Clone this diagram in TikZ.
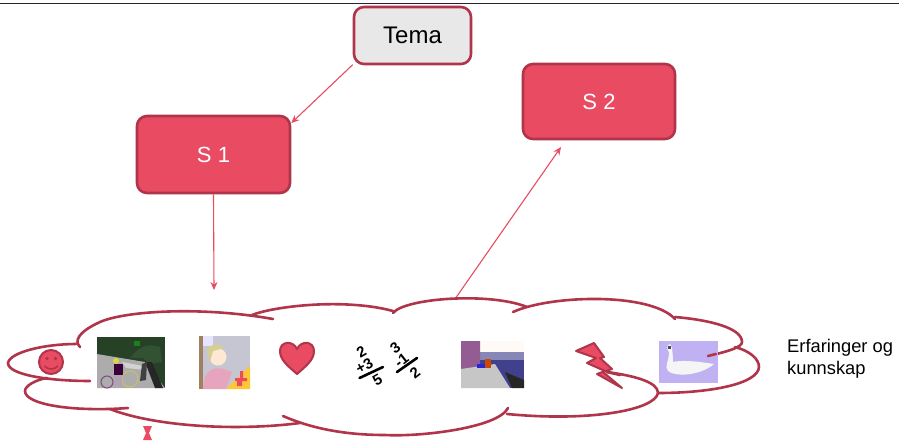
\documentclass[tikz,border=0pt]{standalone}
\usepackage{fontspec}
\setmainfont{Liberation Sans}
\definecolor{rosa}{HTML}{E94B63}
\definecolor{kant}{HTML}{B0354B}
\definecolor{graa}{HTML}{E8E8E8}
\tikzset{
  boks/.style={draw=kant,line width=2.6pt,rounded corners=10pt,inner sep=0pt,align=center},
  rodboks/.style={boks,fill=rosa,text=white,font=\fontsize{22}{26}\selectfont},
  pil/.style={draw=rosa,line width=1.1pt,-{Stealth[length=8pt,width=7pt]}},
  sky/.style={draw=kant,line width=2.6pt,line cap=round},
  ikon/.style={fill=rosa,draw=kant,line width=2pt,line join=round},
  brok/.style={font=\fontsize{15}{13.5}\bfseries\selectfont,inner sep=0pt,align=right},
  brokstrek/.style={black,line width=2.6pt,line cap=round},
}
\usetikzlibrary{arrows.meta}
\begin{document}
\begin{tikzpicture}[x=1pt,y=-1pt]
\useasboundingbox (0,0) rectangle (899,444);
\fill[white] (0,0) rectangle (899,444);
\draw[line width=1pt,black!85] (0,3.5) -- (899,3.5);
% boxes
\node[boks,fill=graa,minimum width=117pt,minimum height=57pt,font=\fontsize{24}{28}\selectfont] (tema) at (412.5,35.5) {Tema};
\node[rodboks,minimum width=153pt,minimum height=77pt] (s1) at (213.5,154.5) {S 1};
\node[rodboks,minimum width=152pt,minimum height=75pt] (s2) at (599,101.5) {S 2};
\coordinate (skyinn) at (214,290);
\coordinate (skytopp) at (455,299);
\coordinate (s2inn) at (561,147);
\draw[pil] (tema.206) -- (s1.22);
\draw[pil] (s1.south) -- (skyinn);
\draw[pil] (skytopp) -- (s2inn);
% cloud
\draw[sky] (80,347) .. controls (74,341) and (78,332) .. (100,322) .. controls (125,311) and (200,306) .. (273,319);
\draw[sky] (252,315) .. controls (275,306) and (345,298) .. (393,311);
\draw[sky] (393,313) .. controls (405,298) and (490,292) .. (527,307);
\draw[sky] (513,312) .. controls (550,295) and (650,292) .. (675,319);
\draw[sky] (675,317) .. controls (710,320) and (742,328) .. (742,342) .. controls (742,347) and (730,351) .. (708,356);
\draw[sky] (735,347) .. controls (750,351) and (759,359) .. (759,367) .. controls (758,384) and (710,393) .. (658,393);
\draw[sky] (607,372) .. controls (635,376) and (658,382) .. (658,393) .. controls (655,410) and (590,422) .. (507,414);
\draw[sky] (508,408) .. controls (498,428) and (420,437) .. (385,435) .. controls (350,435) and (315,430) .. (283,416);
\draw[sky] (110,409) .. controls (150,425) and (230,432) .. (300,423);
\draw[sky] (128,408) .. controls (75,412) and (25,405) .. (25,391) .. controls (25,386) and (35,380) .. (47,378);
\draw[sky] (90,381) .. controls (50,381) and (8,375) .. (8,363) .. controls (10,352) and (45,344) .. (76,344);
% smiley
\fill[rosa,draw=kant,line width=2pt] (51,362) circle (12);
\fill[kant] (47,358.5) circle (1.9) (55.5,358.5) circle (1.9);
\draw[kant,line width=1.6pt] (44.5,366) .. controls (48,370) and (54,370) .. (58,366);
% heart
\path[ikon] (297,374) .. controls (288,366) and (280,360) .. (280,351) .. controls (280,341) and (293,340) .. (297,349) .. controls (301,340) and (314,341) .. (314,351) .. controls (314,360) and (306,366) .. (297,374) -- cycle;
% bolt
\path[ikon] (576,351) -- (594,343) -- (604,357) -- (600,358) -- (612,369) -- (603,372) -- (622,388) -- (597,374) -- (605,371) -- (587,363) -- (596,358) -- cycle;
\draw[sky] (607,372) -- (620,375);
% photo 1
\fill[black!85!green!70!gray] (97,337) rectangle (165,388);
\fill[gray!65] (97,354) -- (145,362) -- (165,388) -- (97,388) -- cycle;
\fill[gray!35] (122,362) -- (143,366) -- (146,370) -- (126,368) -- cycle;
\fill[green!20!black!60!gray] (130,358) .. controls (141,344) and (150,344) .. (160,347) -- (162,362) -- (150,364) -- (143,358) -- cycle;
\fill[green!45!black!90] (134,341) rectangle (140,346);
\fill[black!85] (145,362) -- (152,362) -- (163,388) -- (155,388) -- cycle;
\fill[black!75] (142,364) -- (147,362) -- (146,380) -- (140,381) -- cycle;
\draw[yellow!50!gray,line width=1pt] (130,379) circle (8);
\draw[violet!40!gray,line width=1pt] (107,382) circle (6);
\fill[violet!45!black] (114,364) rectangle (123,375);
\fill[violet!20!gray!60] (114,375) rectangle (122,386);
\fill[yellow!70!gray] (116,361) circle (3);
% photo 2
\fill[blue!12!gray!40] (199,336) rectangle (250,389);
\fill[brown!50!gray] (199,336) rectangle (203,389);
\fill[blue!10!white] (203,336) rectangle (213,346);
\fill[orange!55!yellow!80!white] (250,366) -- (250,389) -- (226,389) -- cycle;
\fill[violet!22!pink!85] (203,389) .. controls (204,368) and (214,364) .. (232,372) -- (226,389) -- cycle;
\fill[orange!18!white] (218,357) circle (8.5);
\fill[gray!55!yellow!70] (207,350) .. controls (210,343) and (220,343) .. (224,348) -- (213,351) -- (210,362) -- cycle;
\fill[rosa] (240,371) rectangle (243,378) (235,378) rectangle (247,381) (237,381) rectangle (242,386);
% fractions
\node[brok,rotate=30] (a1) at (365.5,368) {2\\+3\\[5pt]5};
\draw[brokstrek] (359.5,378) -- (383,367);
\node[brok,rotate=38] (b1) at (403,362) {3\\-1\\[5pt]2};
\draw[brokstrek] (397,372) -- (417,358);
% photo 3
\fill[blue!40!black!75] (461,341) rectangle (524,388);
\fill[orange!4!white] (479,341) rectangle (524,354);
\fill[blue!25!gray!75] (479,352) rectangle (524,360);
\fill[gray!50!violet!85] (461,341) -- (480,341) -- (480,366) -- (461,370) -- cycle;
\fill[gray!45] (461,369) -- (495,364) -- (510,388) -- (461,388) -- cycle;
\fill[black!85] (505,372) -- (524,380) -- (524,388) -- (512,388) -- cycle;
\fill[blue!70!gray] (477,364) rectangle (486,368);
\fill[orange!70!red!80!black] (485,359) rectangle (491,368);
% swan
\fill[violet!35!blue!30!white] (659,341) rectangle (718,383);
\fill[black!4] (670,344) .. controls (666,345) and (667,350) .. (669,352) .. controls (669,362) and (664,366) .. (668,371) .. controls (675,377) and (700,376) .. (714,364) .. controls (695,361) and (682,360) .. (673,362) .. controls (673,354) and (672,350) .. (672,348) -- cycle;
\fill[black!70] (668,346) rectangle (671,349);
\draw[sky] (708,356) -- (716,354);
% text
\node[anchor=west,align=left,inner sep=0pt,font=\fontsize{18.3}{22}\selectfont] (tekst) at (787,359) {Erfaringer og\\kunnskap};
% hourglass
\path[fill=rosa] (143,426) -- (152,426) -- (149,433) -- (152,440) -- (143,440) -- (146,433) -- cycle;
\end{tikzpicture}
\end{document}
